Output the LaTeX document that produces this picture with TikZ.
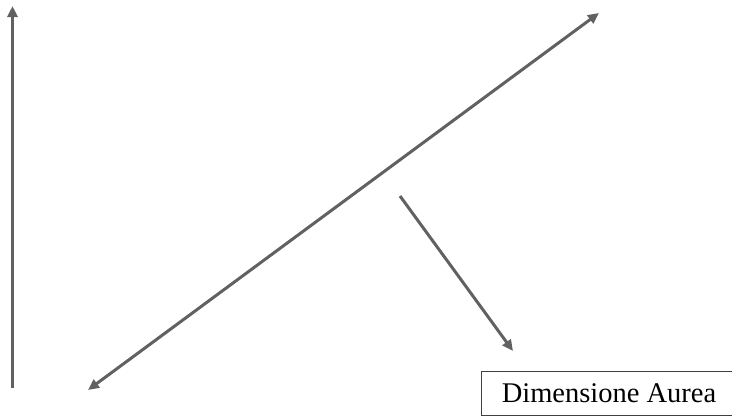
\documentclass[tikz,border=0pt]{standalone}
\usepackage{fontspec}
\setmainfont{Liberation Serif}
\usetikzlibrary{arrows.meta}
\begin{document}
\begin{tikzpicture}[x=1pt,y=-1pt,
  arr/.style={draw=black!62,line width=3pt,-{Triangle[length=11pt,width=10pt]}},
  darr/.style={draw=black!62,line width=3pt,{Triangle[length=11pt,width=10pt]}-{Triangle[length=11pt,width=10pt]}},
  lbl/.style={font=\fontsize{28.5}{32}\selectfont,text=black,inner sep=0pt,anchor=base}]
\useasboundingbox (0,0) rectangle (732,416);
\clip (0,0) rectangle (732,416);
\coordinate (vb) at (12.5,388);
\coordinate (vt) at (12.5,6);
\coordinate (dl) at (88,390);
\coordinate (dr) at (599,13);
\coordinate (ss) at (400,196);
\coordinate (se) at (513,351);
\draw[arr] (vb) -- (vt);
\draw[darr] (dl) -- (dr);
\draw[arr] (ss) -- (se);
\draw[draw=black!75,line width=1pt] (740,371) -- (481.5,371) -- (481.5,415.5) -- (740,415.5);
\node[lbl] (t) at (609,402) {Dimensione Aurea};
\end{tikzpicture}
\end{document}
